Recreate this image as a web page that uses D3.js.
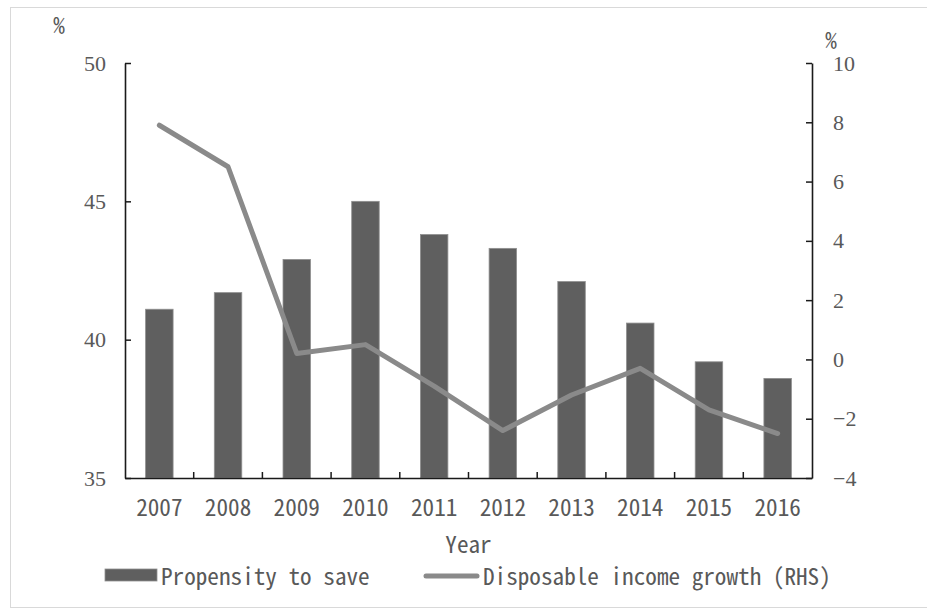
<!DOCTYPE html>
<html>
<head>
<meta charset="utf-8">
<script src="https://cdn.jsdelivr.net/npm/d3@7"></script>
<style>
    html, body { margin: 0; padding: 0; background: #fff; }
    svg { display: block; }
</style>
</head>
<body>
<div id="chart"></div>
<script>
(function () {

    // values
    var years = ['2007', '2008', '2009', '2010', '2011', '2012', '2013', '2014', '2015', '2016'];
    var propensityToSave = [41.1, 41.7, 42.9, 45.0, 43.8, 43.3, 42.1, 40.6, 39.2, 38.6];
    var incomeGrowth = [7.9, 6.5, 0.2, 0.5, -0.9, -2.4, -1.2, -0.3, -1.7, -2.5];
    var leftTicks = [35, 40, 45, 50];
    var rightTicks = [-4, -2, 0, 2, 4, 6, 8, 10];
    var seriesNames = ['Propensity to save', 'Disposable income growth (RHS)'];

    var width = 927;
    var height = 609;
    var plot = {left: 125, right: 812, top: 63, bottom: 478};
    var textColor = '#595959';
    var barColor = '#5f5f5f';
    var lineColor = '#8a8a8a';

    /**
     * picks a font size so that a narrow monospace glyph is about 11.6px wide
     */
    var monoFamily = '"Noto Sans Mono CJK SC", "Liberation Mono", monospace';
    var ctx = document.createElement('canvas').getContext('2d');
    ctx.font = '20px ' + monoFamily;
    var advance = ctx.measureText('0000000000').width / 10;
    var monoSize = Math.round(20 * 11.6 / advance * 10) / 10;
    var serifFamily = '"Liberation Serif", "Times New Roman", serif';

    var svg = d3.select('#chart').append('svg')
        .attr('width', width)
        .attr('height', height);

    // light frame round the chart
    svg.append('rect')
        .attr('x', 10.5)
        .attr('y', 7.5)
        .attr('width', width)
        .attr('height', height - 9)
        .attr('fill', 'none')
        .attr('stroke', '#d9d9d9')
        .attr('stroke-width', 1);

    var x = d3.scaleBand().domain(years).range([plot.left, plot.right]).padding(0);
    var yLeft = d3.scaleLinear().domain([35, 50]).range([plot.bottom, plot.top]);
    var yRight = d3.scaleLinear().domain([-4, 10]).range([plot.bottom, plot.top]);
    var barWidth = x.bandwidth() * 0.4;

    /**
     * bars
     */
    svg.append('g').selectAll('rect')
        .data(years)
        .enter().append('rect')
        .attr('x', function (d) { return x(d) + (x.bandwidth() - barWidth) / 2; })
        .attr('width', barWidth)
        .attr('y', function (d, i) { return yLeft(propensityToSave[i]); })
        .attr('height', function (d, i) { return plot.bottom - yLeft(propensityToSave[i]); })
        .attr('fill', barColor)
        .attr('stroke', '#8f8f8f')
        .attr('stroke-width', 0.8);

    /**
     * line on the right hand scale
     */
    var line = d3.line()
        .x(function (d, i) { return x(years[i]) + x.bandwidth() / 2; })
        .y(function (d) { return yRight(d); });

    svg.append('path')
        .datum(incomeGrowth)
        .attr('d', line)
        .attr('fill', 'none')
        .attr('stroke', lineColor)
        .attr('stroke-width', 5)
        .attr('stroke-linejoin', 'round')
        .attr('stroke-linecap', 'round');

    /**
     * axes, ticks pointing inward
     */
    var leftAxis = svg.append('g')
        .attr('transform', 'translate(' + plot.left + ',0)')
        .call(d3.axisLeft(yLeft).tickValues(leftTicks).tickSizeInner(-6).tickSizeOuter(0).tickPadding(19));

    var rightAxis = svg.append('g')
        .attr('transform', 'translate(' + plot.right + ',0)')
        .call(d3.axisRight(yRight).tickValues(rightTicks).tickSizeInner(-6).tickSizeOuter(0).tickPadding(21)
            .tickFormat(function (d) { return d < 0 ? '\u2212' + Math.abs(d) : d; }));

    var bottomAxis = svg.append('g')
        .attr('transform', 'translate(0,' + plot.bottom + ')')
        .call(d3.axisBottom(x).tickSize(0).tickPadding(22));

    bottomAxis.selectAll('.boundary')
        .data(years.slice(1))
        .enter().append('line')
        .attr('class', 'boundary')
        .attr('x1', function (d) { return x(d); })
        .attr('x2', function (d) { return x(d); })
        .attr('y1', 0)
        .attr('y2', -6)
        .attr('stroke', '#1a1a1a')
        .attr('stroke-width', 1.5);

    [leftAxis, rightAxis, bottomAxis].forEach(function (axis) {
        axis.select('.domain').attr('stroke', '#1a1a1a').attr('stroke-width', 1.6);
        axis.selectAll('.tick line').attr('stroke', '#1a1a1a').attr('stroke-width', 1.5);
        axis.selectAll('text').attr('fill', textColor);
    });

    leftAxis.attr('font-family', serifFamily).attr('font-size', 22);
    rightAxis.attr('font-family', serifFamily).attr('font-size', 22);
    bottomAxis.attr('font-family', monoFamily).attr('font-size', monoSize);

    /**
     * unit labels and axis title
     */
    var labels = svg.append('g')
        .attr('font-family', monoFamily)
        .attr('font-size', monoSize)
        .attr('fill', textColor);

    labels.append('text')
        .attr('x', 59).attr('y', 34)
        .attr('text-anchor', 'middle')
        .text('%');

    labels.append('text')
        .attr('x', 831).attr('y', 49)
        .attr('text-anchor', 'middle')
        .text('%');

    labels.append('text')
        .attr('x', (plot.left + plot.right) / 2).attr('y', 553)
        .attr('text-anchor', 'middle')
        .text('Year');

    /**
     * legend
     */
    var legend = svg.append('g')
        .attr('font-family', monoFamily)
        .attr('font-size', monoSize)
        .attr('fill', textColor);

    legend.append('rect')
        .attr('x', 105).attr('y', 569)
        .attr('width', 52).attr('height', 12)
        .attr('fill', barColor)
        .attr('stroke', '#8f8f8f')
        .attr('stroke-width', 0.8);

    legend.append('text')
        .attr('x', 161).attr('y', 585)
        .text(seriesNames[0]);

    legend.append('line')
        .attr('x1', 426).attr('x2', 477)
        .attr('y1', 576).attr('y2', 576)
        .attr('stroke', lineColor)
        .attr('stroke-width', 5)
        .attr('stroke-linecap', 'round');

    legend.append('text')
        .attr('x', 483).attr('y', 585)
        .text(seriesNames[1]);
})();
</script>
</body>
</html>
